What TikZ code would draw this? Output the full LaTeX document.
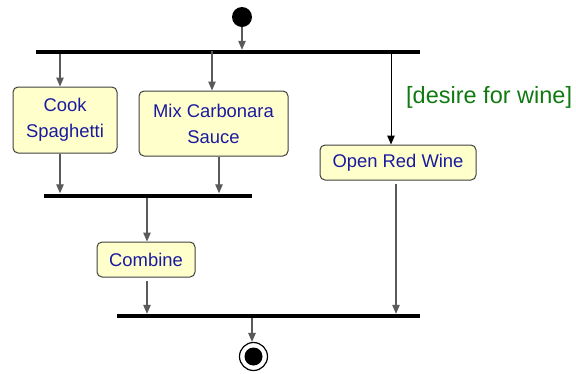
\documentclass[tikz,border=0pt]{standalone}
\usepackage{fontspec}
\setmainfont{Liberation Sans}
\usetikzlibrary{arrows.meta}
\definecolor{boxfill}{HTML}{FFFFCC}
\definecolor{boxline}{HTML}{404040}
\definecolor{txtblue}{HTML}{1A1AA0}
\definecolor{guardgreen}{HTML}{107A10}
\definecolor{arrgray}{HTML}{5A5A5A}
\begin{document}
\begin{tikzpicture}[x=1pt,y=-1pt,
  action/.style={draw=boxline,line width=1pt,fill=boxfill,rounded corners=5pt,
    text=txtblue,font=\fontsize{18.4}{26}\selectfont,align=center,inner sep=0pt},
  bar/.style={fill=black,draw=none,inner sep=0pt,minimum height=4pt},
  flow/.style={draw=arrgray,line width=1.1pt,-{Triangle[length=9pt,width=7.5pt]}},
  flowblack/.style={draw=black,line width=1pt,-{Triangle[length=9pt,width=7.5pt]}}]
\useasboundingbox (0,0) rectangle (576,373);
% start / end
\node[circle,fill=black,minimum size=20pt,inner sep=0pt] (start) at (242,17) {};
\node[circle,draw=black,line width=1.2pt,fill=white,minimum size=28pt,inner sep=0pt] (final) at (253.5,356.5) {};
\fill[black] (final.center) circle (9pt);
% bars
\node[bar,minimum width=384pt] (fork) at (228,52) {};
\node[bar,minimum width=208pt] (join1) at (148,195.5) {};
\node[bar,minimum width=303pt] (join2) at (268.5,316) {};
% actions
\node[action,minimum width=104pt,minimum height=66pt] (cook) at (65,120) {Cook\\Spaghetti};
\node[action,minimum width=149pt,minimum height=65pt] (mix) at (213.5,123.5) {Mix Carbonara\\Sauce};
\node[action,minimum width=156pt,minimum height=35pt] (wine) at (398,162.5) {Open Red Wine};
\node[action,minimum width=98pt,minimum height=35pt] (combine) at (146,259.5) {Combine};
% guard
\node[text=guardgreen,font=\fontsize{23.5}{28}\selectfont,anchor=base west,inner sep=0pt] (guard) at (406,103) {[desire for wine]};
% connectors
\draw[flow] (start.south) -- (start.south |- fork.north);
\draw[flow] ([xshift=-5pt]cook.north |- fork.south) -- ([xshift=-5pt]cook.north);
\draw[flow] ([xshift=-1.5pt,yshift=3pt]mix.north |- fork.south) -- ([xshift=-1.5pt]mix.north);
\draw[flowblack] ([xshift=-7pt]wine.north |- fork.south) -- ([xshift=-7pt]wine.north);
\draw[flow] ([xshift=-5pt]cook.south) -- ([xshift=-5pt]cook.south |- join1.north);
\draw[flow] ([xshift=5.5pt]mix.south) -- ([xshift=5.5pt]mix.south |- join1.north);
\draw[flow] ([xshift=1pt]combine.north |- join1.south) -- ([xshift=1pt]combine.north);
\draw[flow] ([xshift=1pt,yshift=-3pt]combine.south) -- ([xshift=1pt]combine.south |- join2.north);
\draw[flow] ([xshift=-2pt,yshift=-3pt]wine.south) -- ([xshift=-2pt]wine.south |- join2.north);
\draw[flow] ([xshift=-1.5pt]final.north |- join2.south) -- ([xshift=-1.5pt]final.north);
\end{tikzpicture}
\end{document}
